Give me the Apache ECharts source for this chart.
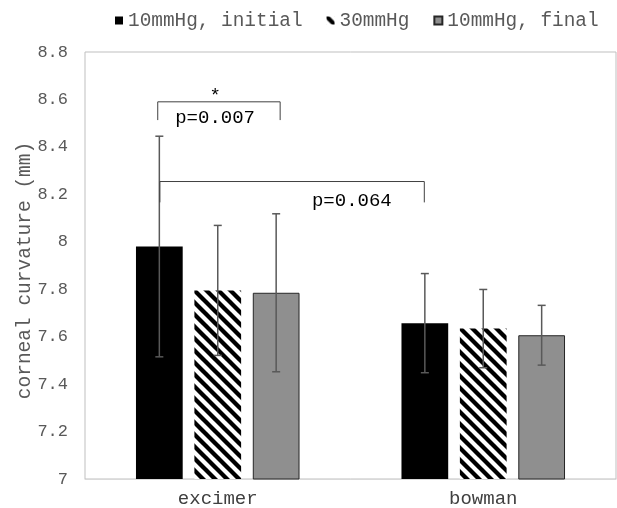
<!DOCTYPE html>
<html>
<head>
<meta charset="utf-8">
<script src="https://cdn.jsdelivr.net/npm/echarts@6/dist/echarts.min.js"></script>
<style>
  html, body { margin: 0; padding: 0; background: #fff; }
  #chart { width: 617px; height: 508px; }
</style>
</head>
<body>
<div id="chart"></div>
<script>
  // data
  const categories = ['excimer', 'bowman']
  const seriesNames = ['10mmHg, initial', '30mmHg', '10mmHg, final']
  const initialMeans = [7.98, 7.657]
  const pressureMeans = [7.795, 7.634]
  const finalMeans = [7.785, 7.606]
  const initialErr = [0.465, 0.209]
  const pressureErr = [0.274, 0.165]
  const finalErr = [0.333, 0.126]
  const yMin = 7, yMax = 8.8, yStep = 0.2

  // significance brackets (y in data units, x as category + offset in band widths)
  const brackets = [
    { from: [0, -0.226], to: [0, 0.235], top: 8.59, leftEnd: 8.513, rightEnd: 8.513,
      text: 'p=0.007', textAt: [0, -0.01], textY: 8.522, star: true },
    { from: [0, -0.218], to: [1, -0.222], top: 8.254, leftEnd: 8.166, rightEnd: 8.166,
      text: 'p=0.064', textAt: [0, 0.505], textY: 8.173, star: false }
  ]

  const FONT = '"Liberation Mono", "Courier New", monospace'
  const BAR_W = 0.176
  const BAR_GAP = 0.25
  const SLOT = BAR_W * (1 + BAR_GAP)

  // diagonal hatch for the 30mmHg bars
  function hatch() {
    const c = document.createElement('canvas')
    c.width = 12; c.height = 12
    const ctx = c.getContext('2d')
    ctx.fillStyle = '#fff'
    ctx.fillRect(0, 0, 12, 12)
    ctx.strokeStyle = '#000'
    ctx.lineWidth = 4.3
    ;[-12, 0, 12].forEach(k => {
      ctx.beginPath()
      ctx.moveTo(-3, -3 + k)
      ctx.lineTo(15, 15 + k)
      ctx.stroke()
    })
    return c
  }

  const means = [initialMeans, pressureMeans, finalMeans]
  const errs = [initialErr, pressureErr, finalErr]
  const errData = []
  means.forEach((arr, s) => {
    arr.forEach((v, i) => errData.push([i, v, errs[s][i], s]))
  })

  let chart = echarts.init(document.getElementById('chart'))
  chart.setOption({
    animation: false,
    legend: {
      data: seriesNames,
      left: 110,
      top: 6,
      icon: 'rect',
      itemWidth: 8,
      itemHeight: 8,
      itemGap: 24,
      textStyle: { fontFamily: FONT, fontSize: 19.4, color: '#595959' }
    },
    grid: {
      left: 85, right: 1, top: 52, bottom: 29,
      show: true, borderColor: '#bfbfbf', borderWidth: 1,
      outerBoundsMode: 'none'
    },
    xAxis: {
      type: 'category',
      data: categories,
      axisLine: { lineStyle: { color: '#d9d9d9', width: 1 } },
      axisTick: { show: false },
      axisLabel: { fontFamily: FONT, fontSize: 19, color: '#404040', margin: 10 },
      splitLine: { show: false }
    },
    yAxis: {
      type: 'value',
      min: yMin, max: yMax, interval: yStep,
      name: 'corneal curvature (mm)',
      nameLocation: 'middle',
      nameRotate: 90,
      nameGap: 50,
      nameMoveOverlap: false,
      nameTextStyle: { fontFamily: FONT, fontSize: 19.5, color: '#595959', padding: [0, 10, 0, 0] },
      axisLine: { show: false },
      axisTick: { show: false },
      splitLine: { show: false },
      axisLabel: { fontFamily: FONT, fontSize: 17, color: '#595959', margin: 17 }
    },
    series: [
      {
        name: seriesNames[0], type: 'bar', data: initialMeans,
        barWidth: (BAR_W * 100) + '%', barGap: (BAR_GAP * 100) + '%',
        itemStyle: { color: '#000' }
      },
      {
        name: seriesNames[1], type: 'bar', data: pressureMeans,
        barWidth: (BAR_W * 100) + '%', barGap: (BAR_GAP * 100) + '%',
        itemStyle: { color: { image: hatch(), repeat: 'repeat' } }
      },
      {
        name: seriesNames[2], type: 'bar', data: finalMeans,
        barWidth: (BAR_W * 100) + '%', barGap: (BAR_GAP * 100) + '%',
        itemStyle: { color: '#8f8f8f', borderColor: '#262626', borderWidth: 1 }
      },
      {
        name: 'errors', type: 'custom', data: errData, z: 5,
        renderItem: function (params, api) {
          const cat = api.value(0), m = api.value(1), e = api.value(2), s = api.value(3)
          const band = api.size([1, 0])[0]
          const x = api.coord([cat, m])[0] + (s - 1) * band * SLOT
          const yt = api.coord([cat, m + e])[1]
          const yb = api.coord([cat, m - e])[1]
          const st = { stroke: '#595959', lineWidth: 1.5 }
          return {
            type: 'group',
            children: [
              { type: 'line', shape: { x1: x, y1: yt, x2: x, y2: yb }, style: st },
              { type: 'line', shape: { x1: x - 4, y1: yt, x2: x + 4, y2: yt }, style: st },
              { type: 'line', shape: { x1: x - 4, y1: yb, x2: x + 4, y2: yb }, style: st }
            ]
          }
        }
      },
      {
        name: 'brackets', type: 'custom', z: 6, clip: false,
        data: brackets.map(b => [b.from[0], b.top]),
        renderItem: function (params, api) {
          const b = brackets[params.dataIndex]
          const band = api.size([1, 0])[0]
          const px = (p) => api.coord([p[0], yMin])[0] + p[1] * band
          const py = (v) => api.coord([0, v])[1]
          const x1 = px(b.from), x2 = px(b.to)
          const kids = [{
            type: 'polyline',
            shape: { points: [[x1, py(b.leftEnd)], [x1, py(b.top)], [x2, py(b.top)], [x2, py(b.rightEnd)]] },
            style: { stroke: '#404040', lineWidth: 1, fill: null }
          }, {
            type: 'text',
            style: {
              text: b.text, x: px(b.textAt), y: py(b.textY),
              align: 'center', verticalAlign: 'middle',
              font: '19px ' + FONT, fill: '#000'
            }
          }]
          if (b.star) {
            kids.push({
              type: 'text',
              style: {
                text: '*', x: px(b.textAt), y: py(b.top) - 6,
                align: 'center', verticalAlign: 'middle',
                font: '19px ' + FONT, fill: '#000'
              }
            })
          }
          return { type: 'group', children: kids }
        }
      }
    ]
  })
</script>
</body>
</html>
